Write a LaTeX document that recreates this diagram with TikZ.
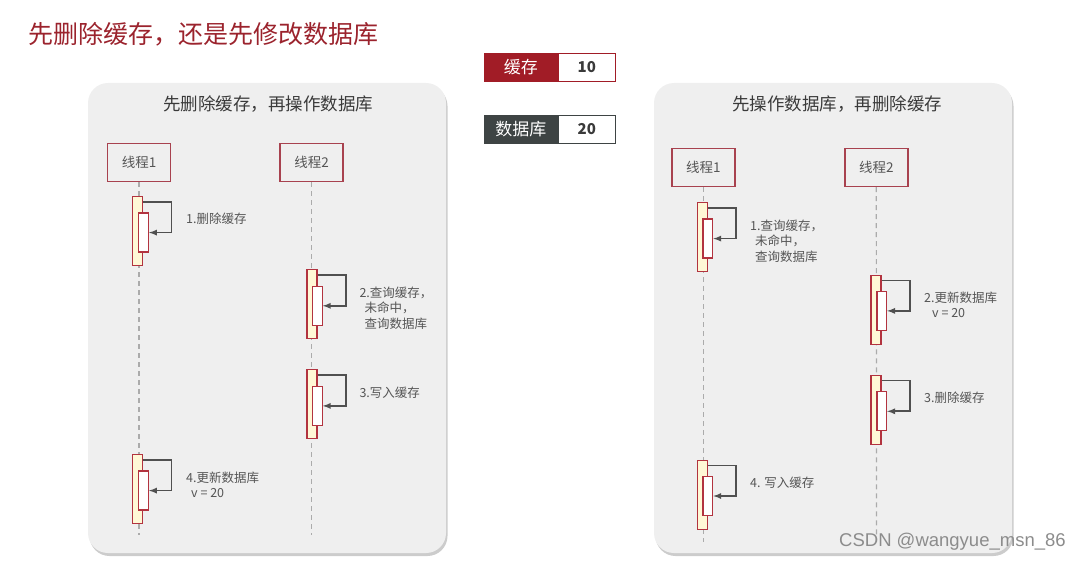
\documentclass[tikz,border=0pt]{standalone}
\usepackage{fontspec}
\setmainfont{Noto Sans CJK SC}
\newfontfamily\wmfont{Liberation Sans}
\usetikzlibrary{positioning,shadows}
\definecolor{titlered}{HTML}{9B232D}
\definecolor{legred}{HTML}{A11C26}
\definecolor{legdark}{HTML}{3E4444}
\definecolor{boxred}{HTML}{A8424F}
\definecolor{barred}{HTML}{B2333F}
\definecolor{barfill}{HTML}{FFF8D6}
\definecolor{panelgray}{HTML}{EFEFEF}
\definecolor{txtgray}{HTML}{555555}
\definecolor{txtdark}{HTML}{3A3A3A}
\definecolor{linegray}{HTML}{505050}
\definecolor{lifegray}{HTML}{ABABAB}
\tikzset{
  panel/.style={fill=panelgray,rounded corners=20pt,
    drop shadow={shadow xshift=1.5pt,shadow yshift=-3pt,opacity=.4}},
  thread/.style={draw=boxred,line width=1.5pt,minimum width=63pt,
    minimum height=38pt,inner sep=0pt,text=txtgray,
    font=\fontsize{13.5}{16}\selectfont},
  act/.style={draw=barred,fill=barfill,line width=1.3pt,minimum width=10pt,
    minimum height=69pt,inner sep=0pt},
  actin/.style={draw=barred,fill=white,line width=1.3pt,minimum width=9.7pt,
    minimum height=39pt,inner sep=0pt},
  selfmsg/.style={->,draw=linegray,line width=1.7pt},
  life/.style={draw=lifegray,line width=1.2pt,dash pattern=on 5pt off 4pt},
  steplabel/.style={anchor=west,align=left,inner sep=0pt,text=txtgray,
    font=\fontsize{12.5}{15.5}\selectfont},
  paneltitle/.style={inner sep=0pt,text=txtdark,font=\fontsize{17.5}{20}\selectfont},
  legkey/.style={minimum width=72pt,minimum height=28pt,inner sep=0pt,
    line width=1.3pt,text=white,font=\fontsize{17}{20}\selectfont},
  legval/.style={fill=white,minimum width=57.5pt,minimum height=28pt,
    inner sep=0pt,line width=1.3pt,text=txtdark,
    font=\fontsize{15}{18}\selectfont\bfseries}
}
\begin{document}
\begin{tikzpicture}[x=1pt,y=-1pt,>=latex,line cap=butt,line join=miter]
  \useasboundingbox (0,0) rectangle (1081,561);
  % title
  \node[anchor=west,inner sep=0pt,text=titlered,
    font=\fontsize{25}{30}\selectfont] (title) at (28,34) {先删除缓存，还是先修改数据库};
  % legend
  \node[legkey,fill=legred,draw=legred] (cachekey) at (520.8,67.2) {缓存};
  \node[legval,draw=legred,right=0pt of cachekey] (cacheval) {10};
  \node[legkey,fill=legdark,draw=legdark] (dbkey) at (520.8,129.5) {数据库};
  \node[legval,draw=legdark,right=0pt of dbkey] (dbval) {20};

  % left panel
  \fill[panel] (88,83) rectangle (446,553);
  \node[paneltitle] (ltitle) at (268,104) {先删除缓存，再操作数据库};
  \node[thread] (t1) at (139,162.5) {线程1};
  \node[thread] (t2) at (311.5,162.5) {线程2};
  \coordinate (t1end) at (139,535);
  \coordinate (t2end) at (311.5,535);
  \draw[life] (t1) -- (t1end);
  \draw[life] (t2) -- (t2end);

  \node[act] (a1) at (137.8,231) {};
  \node[actin] (b1) at ([shift={(5.7,1.6)}]a1) {};
  \draw[selfmsg] ([yshift=-6pt]a1.north east) -- ++(28,0) |- (b1.east);
  \node[steplabel] (l1) at (186,219) {1.删除缓存};

  \node[act] (a2) at (312,304.2) {};
  \node[actin] (b2) at ([shift={(5.3,1.6)}]a2) {};
  \draw[selfmsg] ([yshift=-6pt]a2.north east) -- ++(28,0) |- (b2.east);
  \node[steplabel] (l2) at (359.3,308) {2.查询缓存，\\\hspace{5pt}未命中，\\\hspace{5pt}查询数据库};

  \node[act] (a3) at (312,404.3) {};
  \node[actin] (b3) at ([shift={(5.3,1.6)}]a3) {};
  \draw[selfmsg] ([yshift=-6pt]a3.north east) -- ++(28,0) |- (b3.east);
  \node[steplabel] (l3) at (359.3,392.3) {3.写入缓存};

  \node[act] (a4) at (137.8,489.2) {};
  \node[actin] (b4) at ([shift={(5.7,1.4)}]a4) {};
  \draw[selfmsg] ([yshift=-6pt]a4.north east) -- ++(28,0) |- (b4.east);
  \node[steplabel] (l4) at (186,484.7) {4.更新数据库\\\hspace{5pt}v = 20};

  % right panel
  \fill[panel] (654,83) rectangle (1012,553);
  \node[paneltitle] (rtitle) at (837,104) {先操作数据库，再删除缓存};
  \node[thread] (u1) at (703.3,167.5) {线程1};
  \node[thread] (u2) at (876.3,167.5) {线程2};
  \coordinate (u1end) at (703.3,541.5);
  \coordinate (u2end) at (876.5,541.5);
  \draw[life] (u1) -- (u1end);
  \draw[life] (u2) -- (u2end);

  \node[act] (c1) at (702.2,237) {};
  \node[actin] (d1) at ([shift={(5.6,1.6)}]c1) {};
  \draw[selfmsg] ([yshift=-6pt]c1.north east) -- ++(28,0) |- (d1.east);
  \node[steplabel] (r1) at (750,240.8) {1.查询缓存，\\\hspace{5pt}未命中，\\\hspace{5pt}查询数据库};

  \node[act] (c2) at (876,309.7) {};
  \node[actin] (d2) at ([shift={(5.7,1.2)}]c2) {};
  \draw[selfmsg] ([yshift=-6pt]c2.north east) -- ++(28,0) |- (d2.east);
  \node[steplabel] (r2) at (924,305) {2.更新数据库\\\hspace{8pt}v = 20};

  \node[act] (c3) at (876,409.7) {};
  \node[actin] (d3) at ([shift={(5.7,1.6)}]c3) {};
  \draw[selfmsg] ([yshift=-6pt]c3.north east) -- ++(28,0) |- (d3.east);
  \node[steplabel] (r3) at (924,397.3) {3.删除缓存};

  \node[act] (c4) at (702.2,494.7) {};
  \node[actin] (d4) at ([shift={(5.6,1.3)}]c4) {};
  \draw[selfmsg] ([yshift=-6pt]c4.north east) -- ++(28,0) |- (d4.east);
  \node[steplabel] (r4) at (750,482.3) {4. 写入缓存};

  % watermark
  \node[anchor=west,inner sep=0pt,text=black!45,
    font=\wmfont\fontsize{18.5}{20}\selectfont] (wm) at (839,541.5) {CSDN @wangyue\_msn\_86};
\end{tikzpicture}
\end{document}
